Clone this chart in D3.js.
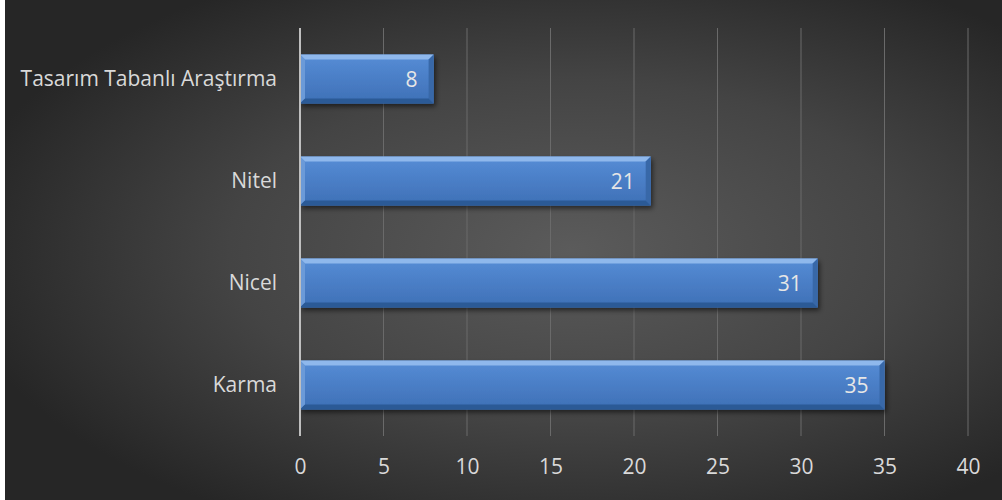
<!DOCTYPE html>
<html>
<head>
<meta charset="utf-8">
<script src="https://cdn.jsdelivr.net/npm/d3@7"></script>
<style>
  html, body { margin: 0; padding: 0; background: #ffffff; }
  svg { display: block; }
</style>
</head>
<body>
<svg id="chart" width="1002" height="500"></svg>
<script>
// Research designs and counts of studies
const categories = ["Tasarım Tabanlı Araştırma", "Nitel", "Nicel", "Karma"];
const counts = [8, 21, 31, 35];
const xTicks = [0, 5, 10, 15, 20, 25, 30, 35, 40];

const W = 1002, H = 500;
const margin = { left: 300, right: 34, top: 28, bottom: 64 };
const font = "'Open Sans', 'Noto Sans', sans-serif";
const fontSize = 21;

const svg = d3.select("#chart");
const defs = svg.append("defs");

// Dark radial backdrop
const bg = defs.append("radialGradient").attr("id", "bg")
  .attr("cx", "57%").attr("cy", "50%").attr("r", "62%");
bg.append("stop").attr("offset", "0%").attr("stop-color", "#5b5b5b");
bg.append("stop").attr("offset", "55%").attr("stop-color", "#444444");
bg.append("stop").attr("offset", "100%").attr("stop-color", "#262626");

// Bar body shading
const body = defs.append("linearGradient").attr("id", "barBody")
  .attr("x1", 0).attr("y1", 0).attr("x2", 0).attr("y2", 1);
body.append("stop").attr("offset", "0%").attr("stop-color", "#568dd6");
body.append("stop").attr("offset", "50%").attr("stop-color", "#4a7ec6");
body.append("stop").attr("offset", "100%").attr("stop-color", "#3e70b6");

const shadow = defs.append("filter").attr("id", "shadow")
  .attr("x", "-5%").attr("y", "-20%").attr("width", "115%").attr("height", "160%");
shadow.append("feDropShadow").attr("dx", 2).attr("dy", 3)
  .attr("stdDeviation", 2.5).attr("flood-color", "#000").attr("flood-opacity", 0.55);

svg.append("rect").attr("width", W).attr("height", H).attr("fill", "url(#bg)");
// thin light edge on the left side of the frame
svg.append("rect").attr("x", 0).attr("y", 0).attr("width", 5).attr("height", H).attr("fill", "#ffffff");

const x = d3.scaleLinear().domain([0, 40]).range([margin.left, W - margin.right]);
const y = d3.scaleBand().domain(categories)
  .range([margin.top, H - margin.bottom])
  .paddingInner(0.52).paddingOuter(0.26);

const plotTop = margin.top, plotBottom = H - margin.bottom;

// Vertical gridlines
svg.append("g").selectAll("line").data(xTicks.filter(t => t > 0)).join("line")
  .attr("x1", d => x(d)).attr("x2", d => x(d))
  .attr("y1", plotTop).attr("y2", plotBottom)
  .attr("stroke", "#6a6a6a").attr("stroke-width", 1);

// X axis labels
const xAxis = d3.axisBottom(x).tickValues(xTicks).tickSize(0).tickPadding(0);
const gx = svg.append("g").attr("transform", `translate(0,${plotBottom})`).call(xAxis);
gx.select(".domain").remove();
gx.selectAll("text")
  .attr("y", 30).attr("dy", "0.36em")
  .attr("fill", "#d9d9d9").attr("font-size", fontSize).attr("font-family", font);

// Category labels
const yAxis = d3.axisLeft(y).tickSize(0).tickPadding(23);
const gy = svg.append("g").attr("transform", `translate(${margin.left},0)`).call(yAxis);
gy.select(".domain").remove();
gy.selectAll("text")
  .attr("fill", "#d9d9d9").attr("font-size", fontSize).attr("font-family", font);

// Bars with bevelled edges
const bv = 5;
const bars = svg.append("g").selectAll("g").data(categories).join("g")
  .attr("filter", "url(#shadow)");

bars.append("rect")
  .attr("x", x(0)).attr("y", d => y(d))
  .attr("width", (d, i) => x(counts[i]) - x(0))
  .attr("height", y.bandwidth())
  .attr("fill", "url(#barBody)");

function poly(pts) { return pts.map(p => p.join(",")).join(" "); }

const bevel = svg.append("g").selectAll("g").data(categories).join("g");
// top highlight
bevel.append("polygon").attr("points", (d, i) => {
  const x0 = x(0), x1 = x(counts[i]), t = y(d);
  return poly([[x0, t], [x1, t], [x1 - bv, t + bv], [x0 + bv, t + bv]]);
}).attr("fill", "#8fb8ec");
// left edge
bevel.append("polygon").attr("points", (d, i) => {
  const x0 = x(0), t = y(d), b = t + y.bandwidth();
  return poly([[x0, t], [x0 + bv, t + bv], [x0 + bv, b - bv], [x0, b]]);
}).attr("fill", "#6b9ad8");
// right end
bevel.append("polygon").attr("points", (d, i) => {
  const x1 = x(counts[i]), t = y(d), b = t + y.bandwidth();
  return poly([[x1, t], [x1, b], [x1 - bv, b - bv], [x1 - bv, t + bv]]);
}).attr("fill", "#3868a8");
// bottom edge
bevel.append("polygon").attr("points", (d, i) => {
  const x0 = x(0), x1 = x(counts[i]), b = y(d) + y.bandwidth();
  return poly([[x0, b], [x0 + bv, b - bv], [x1 - bv, b - bv], [x1, b]]);
}).attr("fill", "#2b5a96");

// Value labels inside bar ends
svg.append("g").selectAll("text").data(categories).join("text")
  .attr("x", (d, i) => x(counts[i]) - 16)
  .attr("y", d => y(d) + y.bandwidth() / 2)
  .attr("dy", "0.36em")
  .attr("text-anchor", "end")
  .attr("fill", "#e6e6e6").attr("font-size", fontSize).attr("font-family", font)
  .text((d, i) => counts[i]);

// Vertical axis line at zero
svg.append("line")
  .attr("x1", x(0)).attr("x2", x(0))
  .attr("y1", plotTop).attr("y2", plotBottom)
  .attr("stroke", "#bfbfbf").attr("stroke-width", 2);
</script>
</body>
</html>
